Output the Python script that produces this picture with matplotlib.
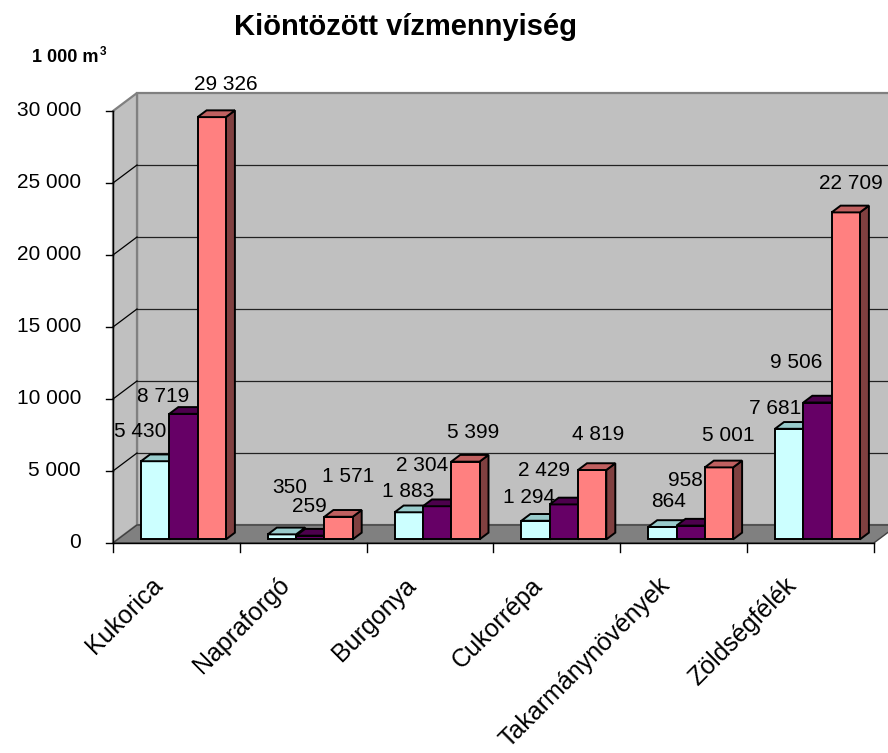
import matplotlib
matplotlib.use("Agg")
import matplotlib.pyplot as plt
from matplotlib.patches import Polygon

# ---------------- data ----------------
categories = ["Kukorica", "Napraforgó", "Burgonya", "Cukorrépa",
              "Takarmánynövények", "Zöldségfélék"]
series_1 = [5430, 350, 1883, 1294, 864, 7681]
series_2 = [8719, 259, 2304, 2429, 958, 9506]
series_3 = [29326, 1571, 5399, 4819, 5001, 22709]
y_ticks = [0, 5000, 10000, 15000, 20000, 25000, 30000]
title = "Kiöntözött vízmennyiség"
unit_main = "1 000 m"
unit_sup = "3"

# label nudges (pixels) relative to the front-top centre of each bar
nudge_x = [[-15, 8, -1, -6, 6, -14],
           [-20, -1, -15, -20, -5, -21],
           [14, 10, 8, 6, 9, 5]]
nudge_y = [[30, 47, 21, 23, 25, 20],
           [17, 29, 41, 34, 45, 40],
           [33, 40, 29, 36, 32, 29]]

plt.rcParams['font.family'] = ['Liberation Sans', 'DejaVu Sans']

W, H = 888, 753
fig = plt.figure(figsize=(W / 100, H / 100), dpi=100)
x0_px, cat_px = 113, 126.8
y0_px, val_px = 543, 72 / 5000
ax = fig.add_axes([0, 0, 1, 1])
ax.set_xlim(-x0_px / cat_px, (W - x0_px) / cat_px)
ax.set_ylim(-(H - y0_px) / val_px, y0_px / val_px)
ax.axis('off')

DU = 24 / cat_px
DV = 18 / val_px
ymax = y_ticks[-1]
n = len(categories)


def P(u, v, d):
    return (u + DU * d, v + DV * d)


wall_c = '#C0C0C0'
floor_c = '#808080'
edge_c = '#808080'

ax.add_patch(Polygon([P(0, 0, 1), P(n, 0, 1), P(n, ymax, 1), P(0, ymax, 1)],
                     closed=True, fc=wall_c, ec=edge_c, lw=1.6, zorder=1))
ax.add_patch(Polygon([P(0, 0, 0), P(0, 0, 1), P(0, ymax, 1), P(0, ymax, 0)],
                     closed=True, fc=wall_c, ec=edge_c, lw=1.6, zorder=1))
ax.add_patch(Polygon([P(0, 0, 0), P(n, 0, 0), P(n, 0, 1), P(0, 0, 1)],
                     closed=True, fc=floor_c, ec='#404040', lw=1.0, zorder=2))

# gridlines
for t in y_ticks[1:-1]:
    a, b = P(0, t, 1), P(n, t, 1)
    ax.plot([a[0], b[0]], [a[1], b[1]], color='#222222', lw=0.9, zorder=2)
    a, b = P(0, t, 0), P(0, t, 1)
    ax.plot([a[0], b[0]], [a[1], b[1]], color='black', lw=0.9, zorder=2)

# axes lines
ax.plot([0, 0], [0, ymax], color='black', lw=1.0, zorder=3)
ax.plot([0, n], [0, 0], color='black', lw=1.0, zorder=3)
tick_len_x = 7 / cat_px
tick_len_y = 9 / val_px
for t in y_ticks:
    ax.plot([-tick_len_x, 0], [t, t], color='black', lw=1.0, zorder=3)
    ax.annotate(f"{t:,}".replace(",", " "), xy=(0, t), xytext=(-32, 0),
                textcoords='offset pixels', ha='right', va='center',
                fontsize=15, zorder=50)
for i in range(n + 1):
    ax.plot([i, i], [0, -tick_len_y], color='black', lw=1.0, zorder=3)

for i, c in enumerate(categories):
    ax.annotate(c, xy=(i + 0.5, 0), xytext=(-9, -30),
                textcoords='offset pixels', ha='right', va='top',
                rotation=45, fontsize=18, zorder=50)

# bars
series = [series_1, series_2, series_3]
colors = [('#CCFFFF', '#99CCCC', '#99CCCC'),
          ('#660066', '#4D004D', '#330033'),
          ('#FF8080', '#C06060', '#804040')]
W_BAR = 28.3 / cat_px
GAP = (28 - 4.8) / cat_px
F0 = 0.2
FD = 0.375
z = 10
for i in range(n):
    for j, vals in enumerate(series):
        v = vals[i]
        xl = i + GAP + j * W_BAR
        xr = xl + W_BAR
        fc, tc, sc = colors[j]
        side = [P(xr, 0, F0), P(xr, 0, F0 + FD), P(xr, v, F0 + FD), P(xr, v, F0)]
        front = [P(xl, 0, F0), P(xr, 0, F0), P(xr, v, F0), P(xl, v, F0)]
        top = [P(xl, v, F0), P(xr, v, F0), P(xr, v, F0 + FD), P(xl, v, F0 + FD)]
        for poly, col in ((side, sc), (front, fc), (top, tc)):
            ax.add_patch(Polygon(poly, closed=True, fc=col, ec='black',
                                 lw=1.4, joinstyle='miter', zorder=z))
            z += 1

for j, vals in enumerate(series):
    for i, v in enumerate(vals):
        xc = i + GAP + (j + 0.5) * W_BAR + DU * F0
        ax.annotate(f"{v:,}".replace(",", " "), xy=(xc, v + DV * F0),
                    xytext=(nudge_x[j][i], nudge_y[j][i]),
                    textcoords='offset pixels', ha='center', va='center',
                    fontsize=15, zorder=200)

fig.text(405 / W, 1 - 35 / H, title, ha='center', va='baseline',
         fontsize=21, fontweight='bold')
t_unit = fig.text(32 / W, 1 - 62 / H, unit_main, ha='left', va='baseline',
                  fontsize=13, fontweight='bold')
fig.canvas.draw()
bb = t_unit.get_window_extent()
fig.text((bb.x1 + 1) / W, 1 - 55 / H, unit_sup, ha='left', va='baseline',
         fontsize=8.5, fontweight='bold')

fig.savefig('out.png', dpi=100, facecolor='white')
